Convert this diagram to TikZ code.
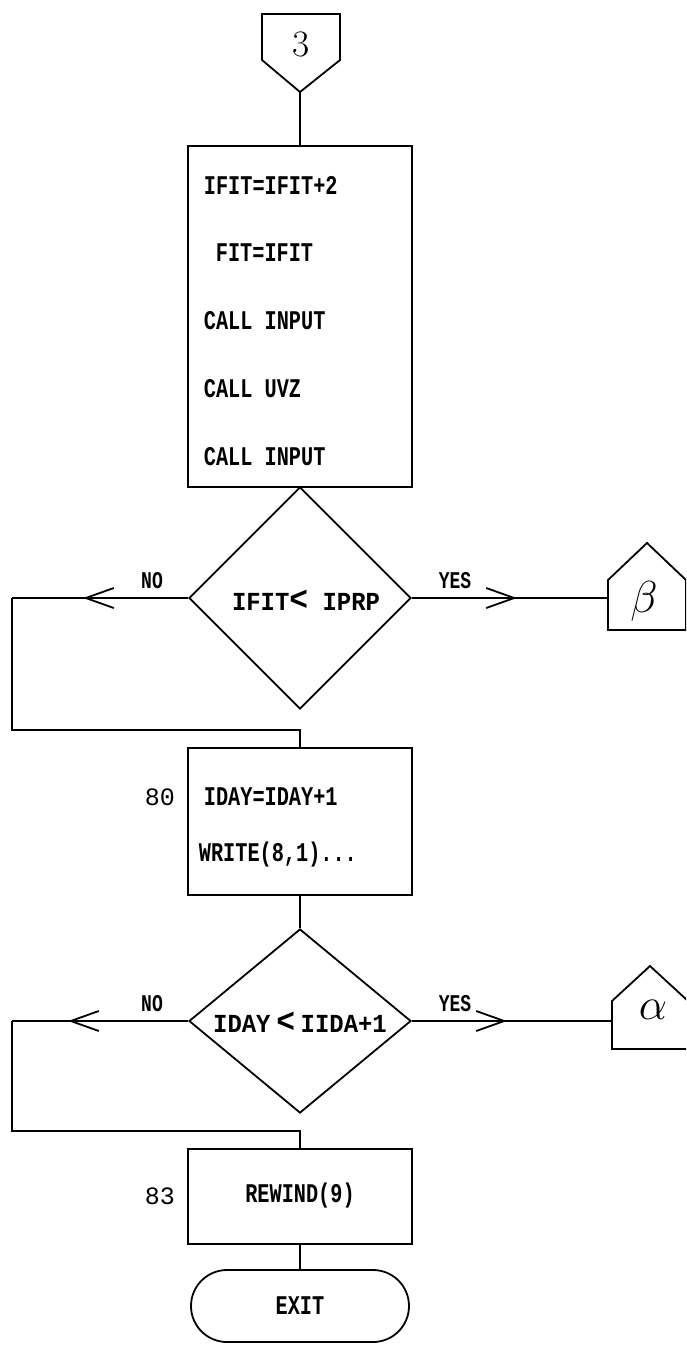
\documentclass[tikz,border=0pt]{standalone}
\usepackage{fontspec}
\newfontfamily\tw{Liberation Mono}[FakeStretch=0.75]
\newfontfamily\twd{Liberation Mono}[FakeStretch=0.92]
\newfontfamily\twn{Liberation Mono}
\usetikzlibrary{shapes.geometric,arrows.meta,decorations.markings}
\begin{document}
\begin{tikzpicture}[x=1pt,y=-1pt,line width=1.8pt,
  txt/.style={font=\tw\bfseries\fontsize{27}{30}\selectfont,inner sep=0pt},
  dtxt/.style={font=\twd\bfseries\fontsize{26}{30}\selectfont,inner sep=0pt},
  lbl/.style={font=\tw\bfseries\fontsize{24}{26}\selectfont,inner sep=0pt},
  num/.style={font=\twn\fontsize{25}{28}\selectfont,inner sep=0pt},
  hand/.style={font=\Huge,scale=1.5,inner sep=0pt},
  greek/.style={font=\Huge,scale=1.8,inner sep=0pt},
  proc/.style={draw,rectangle,inner sep=0pt,minimum width=224pt},
  dec/.style={draw,diamond,inner sep=0pt,minimum width=222pt},
  term/.style={draw,rectangle,rounded corners=36pt,inner sep=0pt,minimum width=218pt,minimum height=72pt},
  barb/.style={postaction={decorate},decoration={markings,
     mark=at position #1 with {\arrow{Straight Barb[length=28pt,width=20pt]}}}}]
\clip (0,0) rectangle (686,1347);
\fill[white] (0,0) rectangle (686,1347);

% entry connector 3
\draw (262,14) -- (340,14) -- (340,60) -- (300,92) -- (262,60) -- cycle;
\coordinate (c3) at (300,92);
\node[hand] (n3) at (301,44) {3};

% box 1
\node[proc,minimum height=341pt] (b1) at (300,316.5) {};
\node[txt,anchor=west] (t1) at (203,185) {IFIT=IFIT+2};
\node[txt,anchor=west] (t2) at (215,253) {FIT=IFIT};
\node[txt,anchor=west] (t3) at (203,321) {CALL INPUT};
\node[txt,anchor=west] (t4) at (203,389) {CALL UVZ};
\node[txt,anchor=west] (t5) at (203,457) {CALL INPUT};
\draw (c3) -- (b1.north);

% decision 1
\node[dec,minimum height=222pt] (d1) at (300,598) {};
\node[dtxt] (dt1) at (306,600) {IFIT{\fontsize{34}{34}\selectfont<} IPRP};
\draw (b1.south) -- (d1.north);
\node[lbl] (no1) at (152,581) {NO};
\node[lbl] (yes1) at (455,581) {YES};

% beta connector
\draw (608,630) -- (608,580) -- (647,543) -- (686,580) -- (686,630) -- cycle;
\coordinate (cb) at (608,598);
\node[greek] (nb) at (644,601) {$\beta$};
\draw[barb=105pt] (d1.east) -- (cb);

% box 2
\node[proc,minimum height=147pt] (b2) at (300,821.5) {};
\node[txt,anchor=west] (t6) at (203,797) {IDAY=IDAY+1};
\node[txt,anchor=west] (t7) at (198,855) {WRITE(8,1)...};
\node[num] (n80) at (160,797) {80};
\coordinate (l1a) at (12,598);
\coordinate (l1b) at (12,730);
\coordinate (l1c) at (300,730);
\draw[barb=105pt] (d1.west) -- (l1a);
\draw (l1a) -- (l1b) -- (l1c) -- (b2.north);

% decision 2
\node[dec,minimum height=184pt] (d2) at (300,1021) {};
\node[dtxt] (dt2) at (300,1022) {IDAY{\fontsize{34}{34}\selectfont\,<\,}IIDA+1};
\draw (b2.south) -- (d2.north);
\node[lbl] (no2) at (152,1004) {NO};
\node[lbl] (yes2) at (455,1004) {YES};

% alpha connector
\draw (612,1049) -- (612,1001) -- (650,966) -- (688,1001) -- (688,1049) -- cycle;
\coordinate (ca) at (612,1021);
\node[greek] (na) at (653,1010) {$\alpha$};
\draw[barb=95pt] (d2.east) -- (ca);

% box 3
\node[proc,minimum height=95pt] (b3) at (300,1196.5) {};
\node[txt] (t8) at (300,1196) {REWIND(9)};
\node[num] (n83) at (160,1196) {83};
\coordinate (l2a) at (12,1021);
\coordinate (l2b) at (12,1131);
\coordinate (l2c) at (300,1131);
\draw[barb=120pt] (d2.west) -- (l2a);
\draw (l2a) -- (l2b) -- (l2c) -- (b3.north);

% exit
\node[term] (ex) at (300,1306) {};
\node[txt] (tex) at (300,1306) {EXIT};
\draw (b3.south) -- (ex.north);
\end{tikzpicture}
\end{document}
